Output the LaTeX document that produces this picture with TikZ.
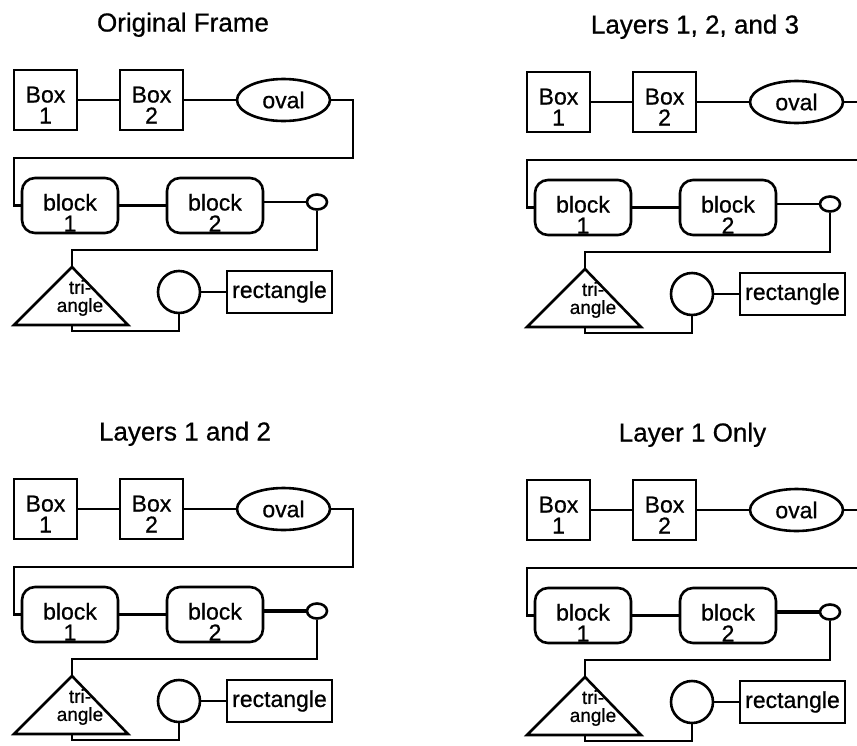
\documentclass[tikz,border=0pt]{standalone}
\usepackage{fontspec}
\setmainfont{Liberation Sans}[FakeBold=0.7]
\usetikzlibrary{shapes.geometric}
\newcommand\dnstrut[1]{\rule{0pt}{#1}}
\newcommand\drawpanel[5]{%
% #1 shift, #2 title, #3 prefix, #4 title x, #5 width of block2-knob line
\begin{scope}[shift={#1}, name prefix=#3-]
  \node[ttl, anchor=base] (title) at (#4,31.5) {#2};
  % row 1
  \node[sqbox] (b1) at (45.5,100) {\dnstrut{26pt}Box\\1};
  \node[sqbox] (b2) at (151.5,100) {\dnstrut{26pt}Box\\2};
  \node[ovl] (ov) at (283.5,100) {oval};
  \coordinate (r1) at (353,158);
  \coordinate (l1) at (14,158);
  % row 2
  \node[blk] (k1) at (70,205.5) {\dnstrut{31pt}block\\1};
  \node[blk] (k2) at (215,205.5) {\dnstrut{31pt}block\\2};
  \node[knob] (so) at (317,202) {};
  \coordinate (r2) at (317,250);
  % row 3
  \coordinate (apex) at (72,267);
  \coordinate (tbl) at (14,325);
  \coordinate (tbr) at (128,325);
  \coordinate (tbm) at (72,325);
  \coordinate (q) at (72,331);
  \node[trilbl] (tri) at (80,298) {tri-\\angle};
  \node[circ] (ci) at (179,292) {};
  \node[rect] (re) at (279.5,292) {rectangle};
  % shapes drawn directly
  \draw[line join=miter] (apex) -- (tbr) -- (tbl) -- cycle;
  % connectors
  \draw (b1) -- (b2);
  \draw (b2) -- (ov);
  \draw (ov.east) -| (r1) -- (l1) |- (k1.west);
  \draw (k1) -- (k2);
  \draw[line width=#5] (so.west) -- (so.west -| k2.east);
  \draw (so.south) -- (r2) -| (apex);
  \draw (ci) -- (re);
  \draw (ci.south) |- (q) -- (tbm);
\end{scope}}
\begin{document}
\begin{tikzpicture}[x=1pt, y=-1pt, line width=2.6pt,
  ttl/.style={font=\fontsize{26}{30}\selectfont, inner sep=0pt},
  lbl/.style={font=\fontsize{23}{21}\selectfont, align=center, inner sep=0pt},
  sqbox/.style={draw, rectangle, minimum width=63pt, minimum height=60pt, lbl},
  blk/.style={draw, rectangle, rounded corners=13pt, minimum width=96pt, minimum height=55pt, lbl},
  ovl/.style={draw, ellipse, minimum width=93pt, minimum height=42pt, lbl},
  knob/.style={draw, ellipse, minimum width=20pt, minimum height=15pt, inner sep=0pt},
  circ/.style={draw, circle, minimum size=42pt, inner sep=0pt},
  rect/.style={draw, rectangle, minimum width=105pt, minimum height=42pt, lbl},
  trilbl/.style={font=\fontsize{19}{18}\selectfont, align=center, inner sep=0pt}]
\clip (0,0) rectangle (857,745);
\drawpanel{(0,0)}{Original Frame}{p1}{183}{2.6pt}
\drawpanel{(513,2)}{Layers 1, 2, and 3}{p2}{182}{2.6pt}
\drawpanel{(0,409)}{Layers 1 and 2}{p3}{185}{4pt}
\drawpanel{(513,410)}{Layer 1 Only}{p4}{179.5}{4pt}
\end{tikzpicture}
\end{document}
